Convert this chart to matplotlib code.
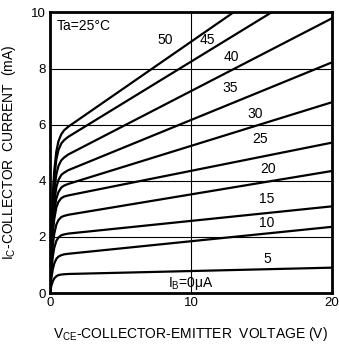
import matplotlib
matplotlib.use("Agg")
import matplotlib.pyplot as plt

plt.rcParams['font.family'] = ['Liberation Sans', 'DejaVu Sans']
plt.rcParams['mathtext.fontset'] = 'custom'
plt.rcParams['mathtext.rm'] = 'Liberation Sans'

# collector-emitter voltage sample points (V)
vce = [0, 0.05, 0.1, 0.2, 0.3, 0.45, 0.6, 0.8, 1.0, 1.3, 20]

# collector current (mA) for each base current step (uA)
ib_steps = [5, 10, 15, 20, 25, 30, 35, 40, 45, 50]
ic_5 = [0, 0.15, 0.26, 0.42, 0.52, 0.60, 0.64, 0.66, 0.67, 0.68, 0.905]
ic_10 = [0, 0.30, 0.53, 0.85, 1.05, 1.22, 1.30, 1.35, 1.38, 1.40, 2.36]
ic_15 = [0, 0.45, 0.81, 1.30, 1.61, 1.86, 1.98, 2.06, 2.09, 2.12, 3.09]
ic_20 = [0, 0.60, 1.06, 1.71, 2.11, 2.44, 2.60, 2.71, 2.75, 2.79, 4.35]
ic_25 = [0, 0.74, 1.32, 2.14, 2.63, 3.05, 3.25, 3.38, 3.44, 3.48, 5.36]
ic_30 = [0, 0.82, 1.46, 2.36, 2.91, 3.37, 3.60, 3.76, 3.83, 3.89, 6.80]
ic_35 = [0, 0.91, 1.63, 2.63, 3.25, 3.77, 4.03, 4.21, 4.29, 4.38, 8.22]
ic_40 = [0, 1.02, 1.82, 2.95, 3.64, 4.23, 4.53, 4.73, 4.83, 4.94, 9.79]
ic_45 = [0, 1.15, 2.05, 3.31, 4.10, 4.76, 5.10, 5.33, 5.45, 5.57, 11.32]
ic_50 = [0, 1.22, 2.17, 3.51, 4.35, 5.05, 5.41, 5.66, 5.80, 5.93, 12.43]
curves = [ic_5, ic_10, ic_15, ic_20, ic_25, ic_30, ic_35, ic_40, ic_45, ic_50]

# where each curve gets its IB label (V, mA)
label_pos = {
    5: (15.45, 1.21), 10: (15.4, 2.5), 15: (15.4, 3.35), 20: (15.45, 4.42),
    25: (14.9, 5.49), 30: (14.55, 6.38), 35: (12.75, 7.31), 40: (12.9, 8.41),
    45: (11.2, 9.02), 50: (8.15, 9.02),
}

fs = 10

fig = plt.figure(figsize=(3.39, 3.46), dpi=100)
ax = fig.add_axes([0.1475, 0.153, 0.8315, 0.811])

for ib, ic in zip(ib_steps, curves):
    ax.plot(vce, ic, color='black', lw=1.6, solid_capstyle='round', zorder=3)
    x, y = label_pos[ib]
    ax.text(x, y, str(ib), fontsize=fs, ha='center', va='center', zorder=4)

ax.text(0.5, 9.5, 'Ta=25°C', fontsize=fs, ha='left', va='center')
ax.text(10, 0.35, r'I$_{\mathregular{B}}$=0μA', fontsize=fs, ha='center', va='center')

ax.set_xlim(0, 20)
ax.set_ylim(0, 10)
ax.set_xticks([0, 10, 20])
ax.set_yticks([0, 2, 4, 6, 8, 10])
ax.tick_params(length=0, labelsize=9.5, pad=3)
for lbl in ax.get_xticklabels():
    lbl.set_clip_on(False)

ax.axvline(10, color='black', lw=0.8, zorder=1)
for h in [2, 4, 6, 8]:
    ax.axhline(h, color='black', lw=0.8, zorder=1)

for sp in ax.spines.values():
    sp.set_linewidth(2.0)

ax.set_xlabel(r'V$_{\mathregular{CE}}$-COLLECTOR-EMITTER  VOLTAGE (V)', fontsize=fs, labelpad=11)
ax.set_ylabel(r'I$_{\mathregular{C}}$-COLLECTOR  CURRENT  (mA)', fontsize=fs, labelpad=9)

fig.savefig('out.png', dpi=100)
